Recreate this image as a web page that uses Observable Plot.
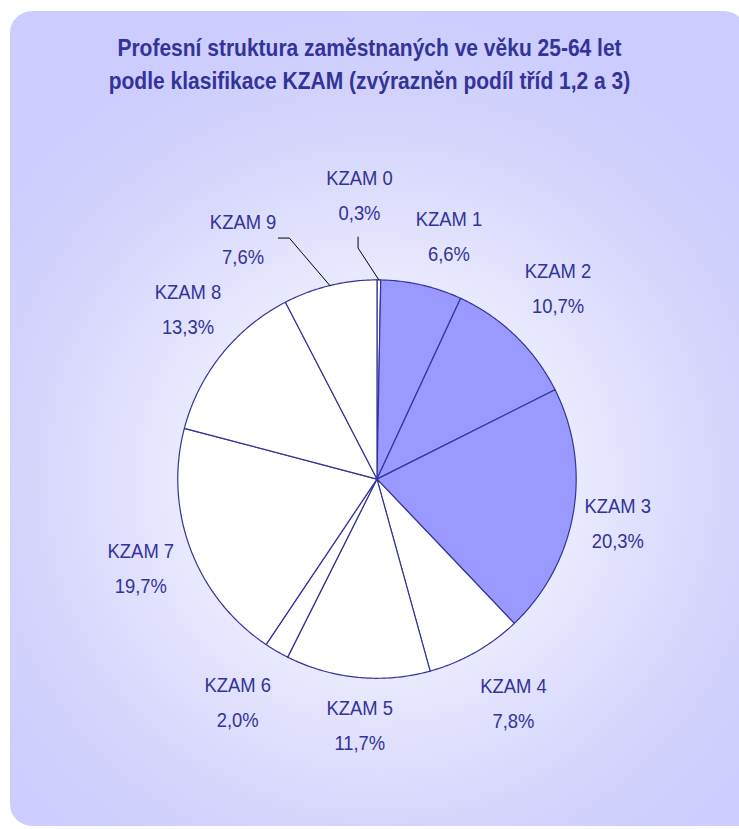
<!DOCTYPE html>
<html>
<head>
<meta charset="utf-8">
<script src="https://cdn.jsdelivr.net/npm/d3@7"></script>
<script src="https://cdn.jsdelivr.net/npm/@observablehq/plot@0.6"></script>
<style>
  html, body { margin: 0; padding: 0; background: #ffffff; overflow: hidden; width: 739px; height: 829px; }
  #panel {
    position: absolute; left: 10px; top: 11px; width: 736px; height: 815px;
    border-radius: 22px 22px 0 22px;
    background: radial-gradient(circle farthest-corner at 368px 469px, #ffffff 0%, #f2f2ff 22%, #e2e2fe 42%, #d3d3fc 62%, #ccccff 80%);
    overflow: hidden;
  }
  #title {
    position: absolute; left: 0; top: 21px; width: 719px; text-align: center;
    font-family: "Liberation Sans", Arial, sans-serif;
    font-weight: bold; font-size: 23px; line-height: 33px; color: #333399;
    transform: scaleX(0.913); transform-origin: 359.5px 0;
  }
  #chart { position: absolute; left: -10px; top: 119px; }
</style>
</head>
<body>
<div id="panel">
  <div id="title">Profesní struktura zaměstnaných ve věku 25-64 let<br>podle klasifikace KZAM (zvýrazněn podíl tříd 1,2 a 3)</div>
  <div id="chart"></div>
</div>
<script>
// ---- data ----
const categories = ["KZAM 0", "KZAM 1", "KZAM 2", "KZAM 3", "KZAM 4", "KZAM 5", "KZAM 6", "KZAM 7", "KZAM 8", "KZAM 9"];
const shares = [0.3, 6.6, 10.7, 20.3, 7.8, 11.7, 2.0, 19.7, 13.3, 7.6];
const highlighted = ["KZAM 1", "KZAM 2", "KZAM 3"];

// ---- layout ----
const R = 200;           // pie radius
const gap = 15, hw = 32, hh = 32, k = 1.4, lift = -3;
// manual label adjustments (as in the original, where some labels were dragged)
const nudges = {
  "KZAM 0": {dx: -20, dy: -39, leader: [[-19, -232], [-19, -243]]},
  "KZAM 1": {dx: 14, dy: -3},
  "KZAM 2": {dx: 1, dy: -6},
  "KZAM 3": {dx: -2, dy: -1},
  "KZAM 4": {dx: 9, dy: 5},
  "KZAM 5": {dx: 8, dy: 0},
  "KZAM 6": {dx: -9, dy: 5},
  "KZAM 7": {dx: -4, dy: -3},
  "KZAM 8": {dx: 10, dy: -9},
  "KZAM 9": {dx: -73, dy: -1, leader: [[-88, -242], [-99, -242]]}
};

const total = d3.sum(shares);
const clamp = v => Math.max(-1, Math.min(1, v));
const pt = (a, r) => [r * Math.sin(a), -r * Math.cos(a)];
const fmt = v => v.toFixed(1).replace(".", ",") + "%";

let cum = 0;
const slicePts = [];
const labels = [];
const leaders = [];
categories.forEach((c, i) => {
  const a0 = cum / total * 2 * Math.PI;
  cum += shares[i];
  const a1 = cum / total * 2 * Math.PI;
  const fill = highlighted.includes(c) ? "#9999ff" : "#ffffff";
  slicePts.push({c, fill, x: 0, y: 0});
  const n = Math.max(2, Math.ceil((a1 - a0) / 0.01));
  for (let j = 0; j <= n; j++) {
    const [x, y] = pt(a0 + (a1 - a0) * j / n, R);
    slicePts.push({c, fill, x, y});
  }
  slicePts.push({c, fill, x: 0, y: 0});
  const am = (a0 + a1) / 2;
  const [ux, uy] = pt(am, 1);
  const nd = nudges[c] || {dx: 0, dy: 0};
  const lx = (R + gap) * ux + hw * clamp(k * ux) + nd.dx;
  const ly = (R + gap) * uy + hh * clamp(k * uy) + nd.dy + lift;
  labels.push({c, x: lx, y: ly, text: c + "\n" + fmt(shares[i])});
  if (nd.leader) {
    const [ex, ey] = pt(am, R);
    leaders.push({c, x: ex, y: ey});
    nd.leader.forEach(([x, y]) => leaders.push({c, x, y}));
  }
});

const chart = Plot.plot({
  width: 749, height: 700,
  margin: 0,
  style: {background: "transparent", overflow: "visible"},
  x: {domain: [-378, 371], range: [0, 749], axis: null},
  y: {domain: [-350, 350], range: [0, 700], axis: null},
  marks: [
    Plot.line(slicePts, {x: "x", y: "y", z: "c", fill: "fill", stroke: "#333399", strokeWidth: 1.2, strokeLinejoin: "round"}),
    Plot.line(leaders, {x: "x", y: "y", z: "c", stroke: "#000000", strokeWidth: 1}),
    Plot.text(labels, {x: "x", y: "y", text: "text", fill: "#333399", fontSize: 21, lineHeight: 1.67,
      fontFamily: "'Liberation Sans', Arial, sans-serif", className: "lbl"})
  ]
});
// condense the label glyphs horizontally (the original uses a narrow face)
chart.querySelectorAll(".lbl text").forEach(t => {
  const tr = t.getAttribute("transform") || "";
  t.setAttribute("transform", tr + " scale(0.88,1)");
});
document.getElementById("chart").appendChild(chart);
</script>
</body>
</html>
